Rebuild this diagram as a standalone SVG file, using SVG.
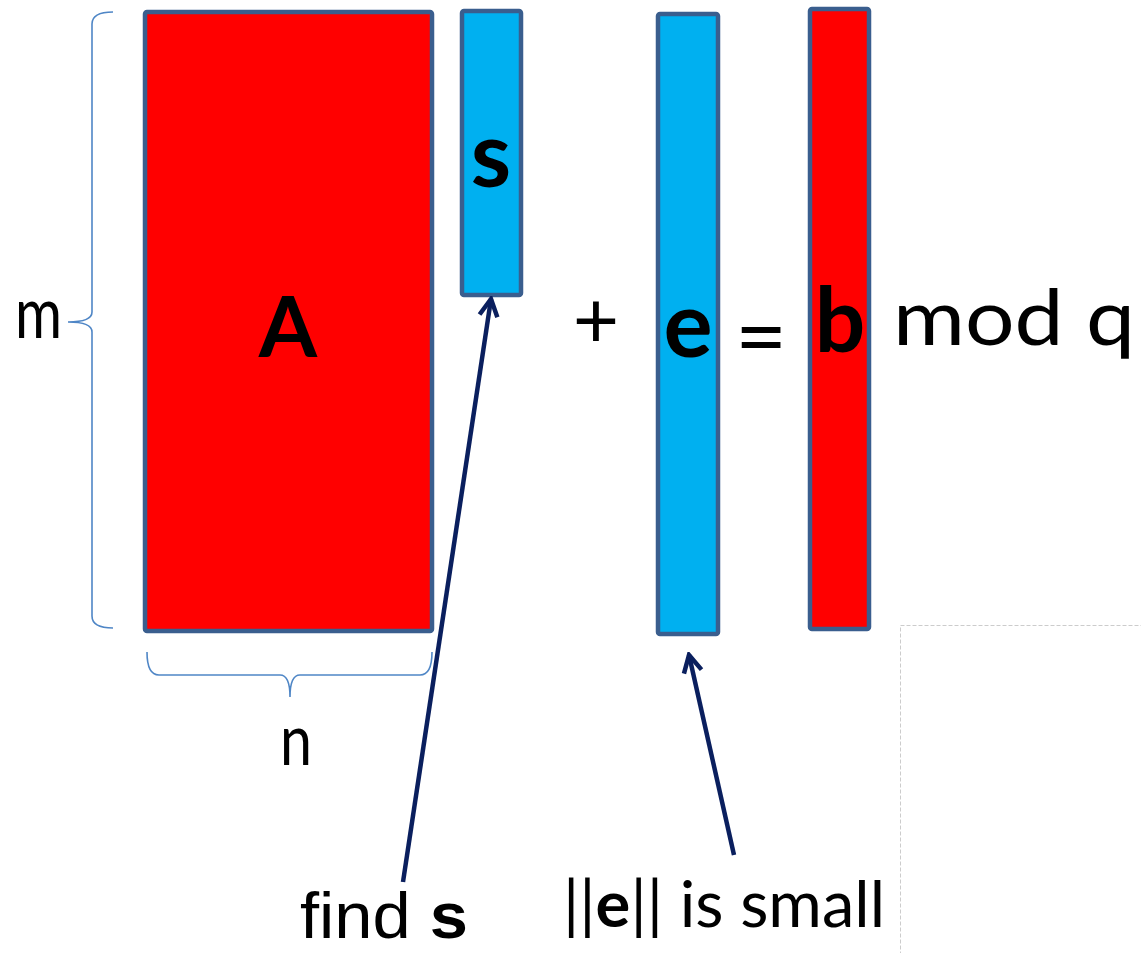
<svg xmlns="http://www.w3.org/2000/svg" width="1141" height="953" viewBox="0 0 1141 953">
<style>
.box{stroke:#3A5E8E;stroke-width:4.5;}
.red{fill:#FF0000;}
.blue{fill:#00B0F0;}
.brace{fill:none;stroke:#4F86C6;stroke-width:1.6;}
.arrow{fill:none;stroke:#0A1F5E;stroke-width:4.5;}
.t{font-family:Lato,"Liberation Sans",sans-serif;fill:#000;}
.b{font-weight:bold;}
</style>
<defs>
<marker id="head" viewBox="0 0 24 24" refX="21" refY="12" markerWidth="24" markerHeight="24" markerUnits="userSpaceOnUse" orient="auto">
<path d="M4,3 L21,12 L4,21" fill="none" stroke="#0A1F5E" stroke-width="4.5" stroke-linejoin="miter"/>
</marker>
</defs>
<rect x="900.5" y="625.5" width="260" height="400" fill="none" stroke="#CCCCCC" stroke-width="1" stroke-dasharray="4,2"/>
<g id="A">
<rect class="box red" x="145" y="12" width="287" height="619" rx="2"/>
<text class="t b" x="288" y="357" font-size="84" text-anchor="middle">A</text>
</g>
<g id="s">
<rect class="box blue" x="462" y="11" width="59" height="284" rx="2"/>
<text class="t b" x="491" y="187" font-size="92" text-anchor="middle">s</text>
</g>
<g id="plus"><text class="t" x="596" y="348" font-size="80" text-anchor="middle">+</text></g>
<g id="e">
<rect class="box blue" x="658" y="14" width="60" height="620" rx="2"/>
<text class="t b" x="688" y="357" font-size="92" text-anchor="middle">e</text>
</g>
<g id="eq"><text class="t" x="761" y="368" font-size="90" text-anchor="middle">=</text></g>
<g id="b">
<rect class="box red" x="810" y="9" width="59" height="620" rx="2"/>
<text class="t b" x="840" y="352" font-size="89" text-anchor="middle">b</text>
</g>
<g id="modq"><text class="t" x="893" y="345" font-size="78" textLength="242" lengthAdjust="spacingAndGlyphs">mod q</text></g>
<g id="m-brace">
<path class="brace" d="M113,12 Q92,12 92,24 L92,312 Q92,322 68,322 Q92,322 92,332 L92,616 Q92,628 113,628"/>
<text class="t" x="15" y="338" font-size="72" textLength="47" lengthAdjust="spacingAndGlyphs">m</text>
</g>
<g id="n-brace">
<path class="brace" d="M147,652 Q147,675 159,675 L280,675 Q290,675 290,697 Q290,675 300,675 L420,675 Q432,675 432,652"/>
<text class="t" x="280" y="765" font-size="72" textLength="32" lengthAdjust="spacingAndGlyphs">n</text>
</g>
<g id="connectors">
<line class="arrow" x1="403" y1="882" x2="491" y2="299" marker-end="url(#head)"/>
<line class="arrow" x1="734" y1="855" x2="689" y2="655" marker-end="url(#head)"/>
</g>
<g id="find-s"><text x="300" y="938" font-family="Liberation Sans, Arial, sans-serif" font-size="64" textLength="168" lengthAdjust="spacingAndGlyphs">find <tspan font-weight="bold">s</tspan></text></g>
<g id="e-small"><text class="t" x="563" y="927" font-size="64" textLength="322" lengthAdjust="spacingAndGlyphs">||<tspan class="b">e</tspan>|| is small</text></g>
</svg>
